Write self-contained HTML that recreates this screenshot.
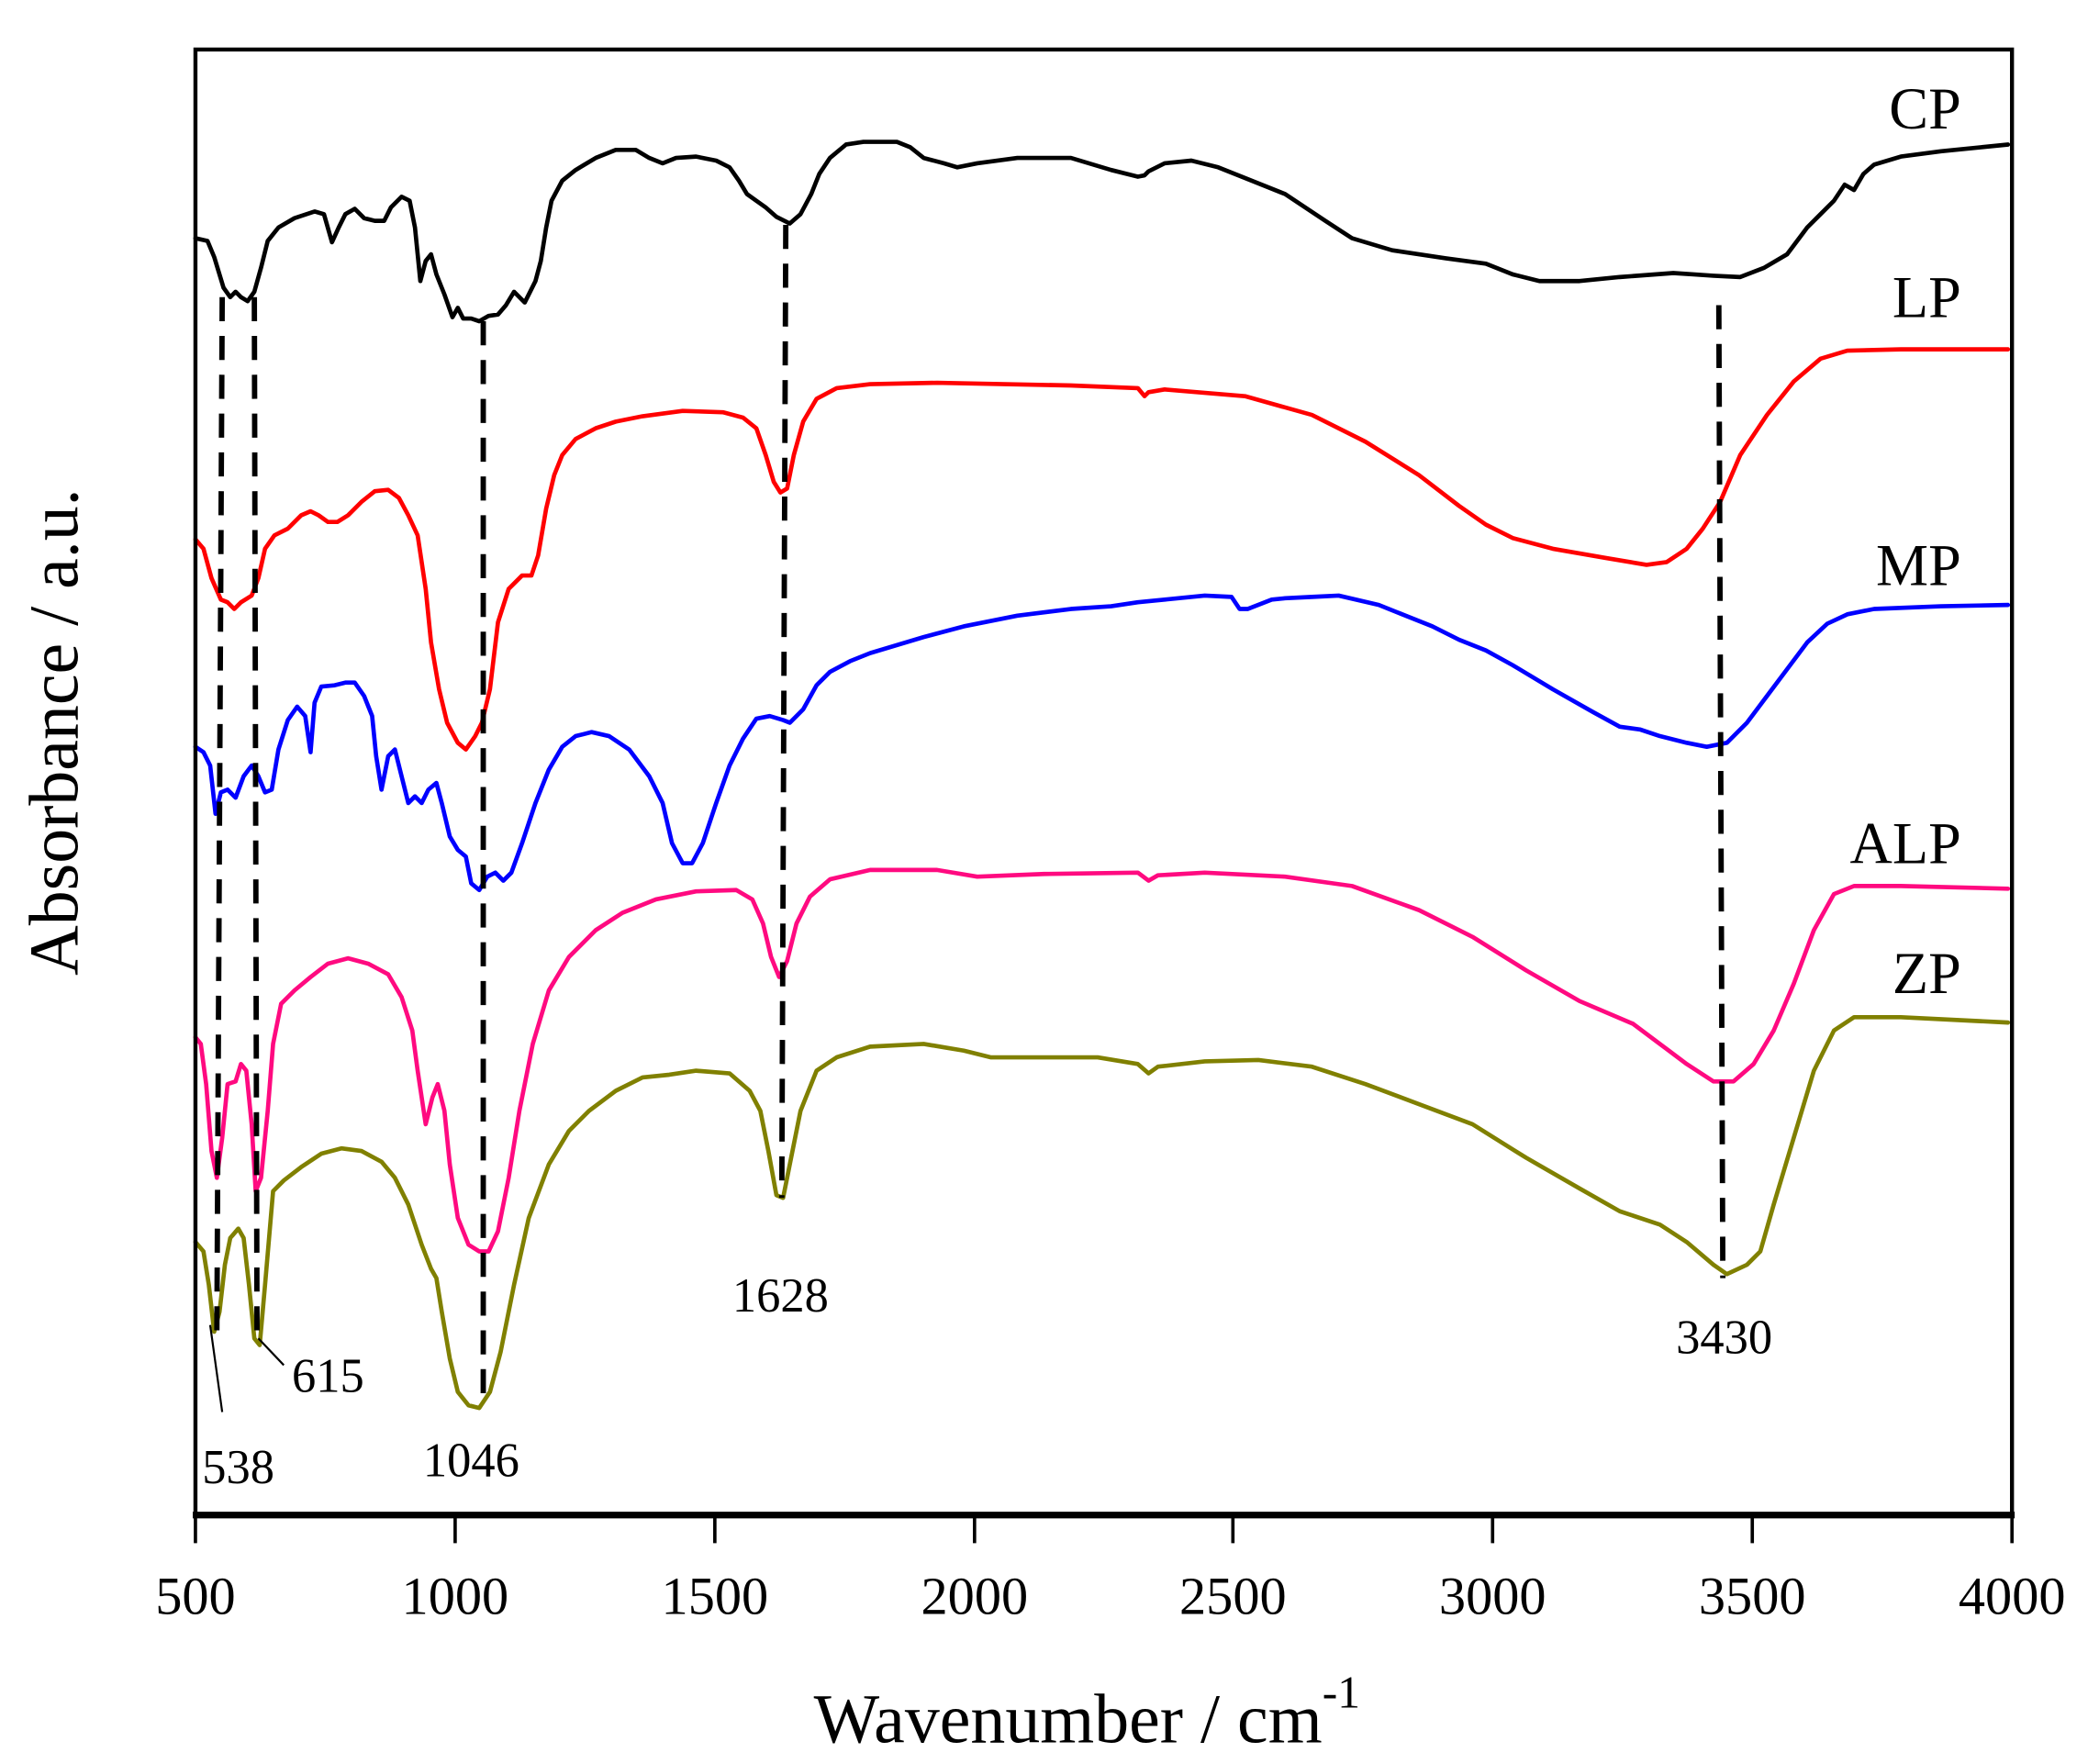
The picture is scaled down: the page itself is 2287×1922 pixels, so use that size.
<!DOCTYPE html>
<html><head><meta charset="utf-8"><style>
html,body{margin:0;padding:0;background:#fff;}
svg{display:block;}
text{font-family:"Liberation Serif",serif;fill:#000;}
</style></head><body>
<svg width="2287" height="1922" viewBox="0 0 1568 1318" preserveAspectRatio="none" xmlns="http://www.w3.org/2000/svg">
<rect x="0" y="0" width="1568" height="1318" fill="#fff"/>
<g fill="none" stroke-linejoin="round" stroke-linecap="round" stroke-width="3.2">
<polyline stroke="#000" points="146,178 155,180 160,192 167,215 172,222 176,218 180,222 185,225 190,218 195,200 200,180 208,170 220,163 235,158 242,160 248,181 253,170 258,160 265,156 272,163 280,165 287,165 292,155 300,147 306,150 310,170 314,210 318,195 322,190 326,205 332,220 338,237 342,230 346,238 352,238 358,240 365,236 372,235 378,228 384,218 388,222 392,226 396,218 400,210 404,195 408,170 412,150 420,135 430,127 445,118 460,112 475,112 485,118 495,122 505,118 520,117 535,120 545,125 552,135 558,145 565,150 572,155 580,162 590,167 598,160 606,145 612,130 620,118 632,108 645,106 670,106 680,110 690,118 705,122 715,125 730,122 760,118 800,118 830,127 850,132 855,131 858,128 870,122 890,120 910,125 930,133 960,145 990,165 1010,178 1040,187 1080,193 1110,197 1130,205 1150,210 1180,210 1210,207 1250,204 1265,205 1280,206 1300,207 1318,200 1335,190 1350,170 1360,160 1370,150 1378,138 1385,142 1392,130 1400,123 1420,117 1450,113 1480,110 1500,108"/>
<polyline stroke="#ff0000" points="146,403 152,410 158,432 165,448 170,450 175,455 180,450 188,445 193,432 198,410 205,400 215,395 225,385 232,382 238,385 245,390 252,390 260,385 270,375 280,367 290,366 298,372 305,385 312,400 318,440 322,480 328,515 334,540 342,555 348,560 355,550 360,540 366,515 372,465 380,440 390,430 397,430 402,415 408,380 414,355 420,340 430,328 445,320 460,315 480,311 510,307 540,308 555,312 565,320 572,340 578,360 583,368 588,365 593,340 600,315 610,298 625,290 650,287 700,286 800,288 850,290 855,296 858,293 870,291 930,296 980,310 1020,330 1060,355 1090,378 1110,392 1130,402 1160,410 1200,417 1230,422 1245,420 1260,410 1272,395 1285,375 1300,340 1320,310 1340,285 1360,268 1380,262 1420,261 1500,261"/>
<polyline stroke="#0000ff" points="146,558 152,562 157,572 161,608 165,592 170,590 176,596 182,580 188,572 193,580 198,592 203,590 208,560 215,538 222,528 228,535 232,562 235,525 240,513 250,512 258,510 265,510 272,520 278,535 281,565 285,590 290,565 295,560 300,580 305,600 310,595 315,600 320,590 326,585 330,600 336,625 342,635 348,640 352,660 358,665 364,655 370,652 376,658 382,652 390,630 400,600 410,575 420,558 430,550 442,547 455,550 470,560 485,580 495,600 502,630 510,645 517,645 525,630 535,600 545,572 555,552 565,537 575,535 585,538 590,540 600,530 610,512 620,502 635,494 650,488 670,482 690,476 720,468 760,460 800,455 830,453 850,450 870,448 900,445 920,446 926,455 932,455 950,448 960,447 980,446 1000,445 1030,452 1050,460 1070,468 1090,478 1110,486 1130,497 1160,515 1190,532 1210,543 1225,545 1240,550 1260,555 1275,558 1290,555 1305,540 1320,520 1335,500 1350,480 1365,466 1380,459 1400,455 1450,453 1500,452"/>
<polyline stroke="#ff0a80" points="146,775 150,780 154,810 158,860 162,880 166,850 170,810 176,808 180,795 184,800 188,840 191,890 195,880 200,830 204,780 210,750 220,740 232,730 245,720 260,716 275,720 290,728 300,745 308,770 312,800 318,840 323,820 327,810 332,830 336,870 342,910 350,930 358,935 365,935 372,920 380,880 388,830 398,780 410,740 425,715 445,695 465,682 490,672 520,666 550,665 562,672 570,690 576,715 582,730 588,718 595,690 605,670 620,657 650,650 700,650 730,655 780,653 850,652 858,658 865,654 900,652 960,655 1010,662 1060,680 1100,700 1140,725 1180,748 1220,765 1240,780 1260,795 1280,808 1295,808 1310,795 1325,770 1340,735 1355,695 1370,668 1385,662 1420,662 1500,664"/>
<polyline stroke="#808000" points="146,928 152,935 156,960 160,995 164,980 168,945 172,925 178,918 182,925 186,960 190,1000 194,1005 198,960 204,890 212,882 225,872 240,862 255,858 270,860 285,868 295,880 305,900 315,930 322,948 326,955 330,980 336,1015 342,1040 350,1050 358,1052 366,1040 374,1010 384,960 395,910 410,870 425,845 440,830 460,815 480,805 500,803 520,800 545,802 560,815 568,830 574,860 580,893 585,895 590,870 598,830 610,800 625,790 650,782 690,780 720,785 740,790 780,790 820,790 850,795 858,802 865,797 900,793 940,792 980,797 1020,810 1060,825 1100,840 1140,865 1180,888 1210,905 1240,915 1260,928 1280,945 1290,952 1305,945 1315,935 1325,900 1340,850 1355,800 1370,770 1385,760 1420,760 1500,764"/>
</g>
<g stroke="#000" stroke-width="4" stroke-dasharray="18,11" fill="none">
<line x1="166" y1="222" x2="162" y2="995"/>
<line x1="190" y1="222" x2="192" y2="1000"/>
<line x1="361" y1="240" x2="361" y2="1050"/>
<line x1="587" y1="168" x2="584" y2="895"/>
<line x1="1284" y1="228" x2="1287" y2="955"/>
</g>
<g stroke="#000" stroke-width="1.5">
<line x1="157" y1="990" x2="166" y2="1055"/>
<line x1="193" y1="1000" x2="212" y2="1020"/>
</g>
<rect x="146" y="37" width="1357" height="1095" fill="none" stroke="#000" stroke-width="3"/>
<line x1="144" y1="1132" x2="1505" y2="1132" stroke="#000" stroke-width="5"/>
<g stroke="#000" stroke-width="2.5">
<line x1="146" y1="1132" x2="146" y2="1153"/><line x1="340" y1="1132" x2="340" y2="1153"/><line x1="534" y1="1132" x2="534" y2="1153"/><line x1="728" y1="1132" x2="728" y2="1153"/><line x1="921" y1="1132" x2="921" y2="1153"/><line x1="1115" y1="1132" x2="1115" y2="1153"/><line x1="1309" y1="1132" x2="1309" y2="1153"/><line x1="1503" y1="1132" x2="1503" y2="1153"/>
</g>
<g font-size="40" text-anchor="middle">
<text x="146" y="1206">500</text><text x="340" y="1206">1000</text><text x="534" y="1206">1500</text><text x="728" y="1206">2000</text><text x="921" y="1206">2500</text><text x="1115" y="1206">3000</text><text x="1309" y="1206">3500</text><text x="1503" y="1206">4000</text>
</g>
<text x="812" y="1302" font-size="52" text-anchor="middle">Wavenumber / cm<tspan font-size="34" dy="-26">-1</tspan></text>
<text transform="translate(58,547) rotate(-90)" font-size="52" text-anchor="middle">Absorbance / a.u.</text>
<g font-size="44" text-anchor="end">
<text x="1465" y="96">CP</text><text x="1465" y="237">LP</text><text x="1465" y="437">MP</text><text x="1465" y="645">ALP</text><text x="1465" y="742">ZP</text>
</g>
<g font-size="36" text-anchor="middle">
<text x="178" y="1108">538</text><text x="245" y="1040">615</text><text x="352" y="1103">1046</text><text x="583" y="980">1628</text><text x="1288" y="1011">3430</text>
</g>
</svg>
</body></html>
